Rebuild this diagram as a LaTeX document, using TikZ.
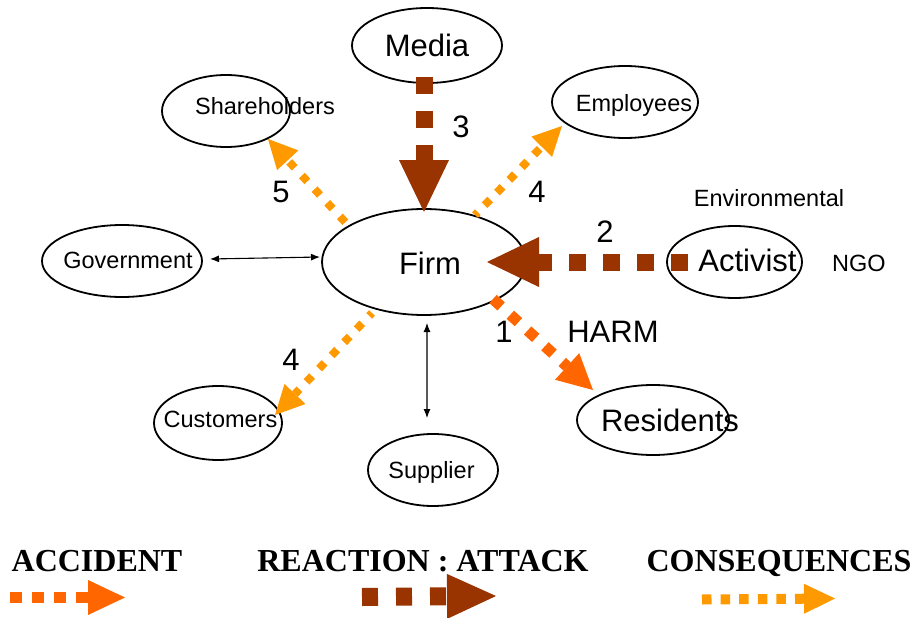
\documentclass[tikz,border=0pt]{standalone}
\usepackage{fontspec}
\setmainfont{Liberation Sans}
\newfontfamily\legendfont{Liberation Serif}
\usetikzlibrary{arrows.meta,shapes.geometric,calc}

\definecolor{accident}{HTML}{FF6600}
\definecolor{attack}{HTML}{993300}
\definecolor{conseq}{HTML}{FF9900}

\begin{document}
\begin{tikzpicture}[x=1pt,y=-1pt,
  oval/.style={ellipse,draw=black,line width=1.8pt,inner sep=0pt},
  big/.style={font=\fontsize{31}{31}\selectfont,inner sep=0pt,anchor=base},
  small/.style={font=\fontsize{23.5}{24}\selectfont,inner sep=0pt,anchor=base},
  legendtxt/.style={font=\legendfont\bfseries\fontsize{32}{32}\selectfont,inner sep=0pt,anchor=base},
  accarrow/.style={draw=accident,line width=11pt,dash pattern=on 11pt off 12.4pt,
    -{Triangle[length=35pt,width=36pt,line width=0pt 0]}},
  atkarrow/.style={draw=attack,line width=17pt,dash pattern=on 17pt off 17pt,
    -{Triangle[length=52pt,width=50pt,line width=0pt 0]}},
  conarrow/.style={draw=conseq,line width=8pt,
    -{Triangle[length=29pt,width=29pt,line width=0pt 0]}},
  link/.style={line width=1.1pt,{Latex[length=9pt,width=7pt]}-{Latex[length=9pt,width=7pt]}}
]
\fill[white] (0,0) rectangle (914,618);
\useasboundingbox (0,0) rectangle (914,618);

% stakeholder ellipses
\node[oval,minimum width=150pt,minimum height=75pt] (media) at (427,45.5) {};
\node[oval,minimum width=128pt,minimum height=72pt] (share) at (226,111) {};
\node[oval,minimum width=146pt,minimum height=72pt] (empl) at (625,102) {};
\node[oval,minimum width=204pt,minimum height=106pt] (firm) at (424,262) {};
\node[oval,minimum width=160pt,minimum height=72pt] (gov) at (122,261) {};
\node[oval,minimum width=135pt,minimum height=72pt] (act) at (734.5,262) {};
\node[oval,minimum width=128pt,minimum height=74pt] (cust) at (218,423) {};
\node[oval,minimum width=130pt,minimum height=72pt] (supp) at (433,470) {};
\node[oval,minimum width=152pt,minimum height=70pt] (res) at (653,420) {};

% labels
\node[big] (mediaT) at (427,57) {Media};
\node[small] (shareT) at (265,114.5) {Shareholders};
\node[small] (emplT) at (634,111.5) {Employees};
\node[big] (firmT) at (430,274) {Firm};
\node[small] (govT) at (128,268) {Government};
\node[big] (actT) at (747.5,271) {Activist};
\node[small] (envT) at (769,206) {Environmental};
\node[small] (ngoT) at (859,271) {NGO};
\node[small] (custT) at (220.5,427) {Customers};
\node[small] (suppT) at (431.5,478) {Supplier};
\node[big] (resT) at (670,431) {Residents};
\node[big] (harmT) at (613,342) {HARM};

\node[big] (n3) at (461,137) {3};
\node[big] (n4a) at (537,202) {4};
\node[big] (n5) at (281,202) {5};
\node[big] (n2) at (605,242) {2};
\node[big] (n1) at (504,342) {1};
\node[big] (n4b) at (291,370) {4};

% plain two-way links
\draw[link] ($(gov.center)+(88,-2)$) -- ($(firm.center)+(-104,-5)$);
\draw[link,draw=black!65,{Latex[length=9pt,width=7pt,color=black]}-{Latex[length=9pt,width=7pt,color=black]}]
  ($(firm.center)+(3,61)$) -- ($(supp.center)+(-6,-52)$);

% attacks
\draw[atkarrow] ($(media.center)+(-3,31.5)$) -- ($(firm.center)+(0,-50)$);
\draw[atkarrow] ($(act.center)+(-46.5,0)$) -- ($(firm.center)+(63,0)$);

% accident
\draw[accarrow] ($(firm.center)+(69,37)$) -- ($(res.center)+(-60,-30)$);

% consequences
\draw[conarrow,dash pattern=on 8pt off 9.7pt,dash phase=4pt]
  ($(firm.center)+(51,-47)$) -- ($(empl.center)+(-63,24)$);
\draw[conarrow,dash pattern=on 8pt off 10.6pt,dash phase=17.6pt]
  ($(firm.center)+(-78,-39)$) -- ($(share.center)+(42,28)$);
\draw[conarrow,dash pattern=on 8pt off 10.2pt,dash phase=4pt]
  ($(firm.center)+(-52,51)$) -- ($(cust.center)+(57,-8)$);

% legend
\node[legendtxt] (legAcc) at (97,571) {ACCIDENT};
\node[legendtxt] (legAtk) at (423,571) {REACTION : ATTACK};
\node[legendtxt] (legCon) at (779,571) {CONSEQUENCES};

\coordinate (accS) at (10,597.5);
\coordinate (accE) at (125,597.5);
\coordinate (atkS) at (362,597);
\coordinate (atkE) at (496,596);
\coordinate (conS) at (702,599.5);
\coordinate (conE) at (835,598.5);

\draw[accarrow,line width=11.5pt,dash pattern=on 12pt off 10pt,
  -{Triangle[length=37pt,width=35pt,line width=0pt 0]}] (accS) -- (accE);
\draw[atkarrow,line width=18pt,dash pattern=on 16pt off 18pt,
  -{Triangle[length=49pt,width=45pt,line width=0pt 0]}] (atkS) -- (atkE);
\draw[conarrow,line width=10pt,dash pattern=on 9.5pt off 9.1pt,
  -{Triangle[length=31pt,width=30pt,line width=0pt 0]}] (conS) -- (conE);
\end{tikzpicture}
\end{document}
